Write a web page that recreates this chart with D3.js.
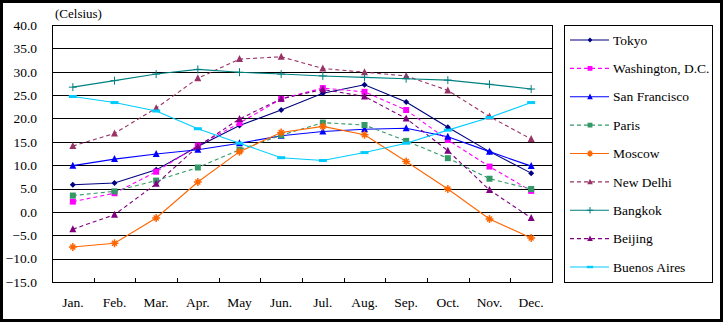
<!DOCTYPE html>
<html><head><meta charset="utf-8">
<script src="https://cdn.jsdelivr.net/npm/d3@7"></script>
<style>
html,body{margin:0;padding:0;background:#fff;}
svg{display:block;}
</style></head><body>
<svg id="c" width="723" height="322"></svg>
<script>
const months = ["Jan.","Feb.","Mar.","Apr.","May","Jun.","Jul.","Aug.","Sep.","Oct.","Nov.","Dec."];
const yTicks = [-15,-10,-5,0,5,10,15,20,25,30,35,40];
const cities = ["Tokyo","Washington, D.C.","San Francisco","Paris","Moscow","New Delhi","Bangkok","Beijing","Buenos Aires"];
const tokyo      = [5.8, 6.2, 9.0, 14.0, 18.5, 21.8, 25.4, 27.2, 23.5, 18.1, 12.9, 8.3];
const washington = [2.2, 4.0, 8.6, 14.2, 19.0, 24.2, 26.5, 25.7, 21.8, 15.4, 9.7, 4.5];
const sanFran    = [9.9, 11.3, 12.4, 13.3, 14.7, 16.3, 17.2, 17.7, 17.9, 16.1, 12.9, 9.8];
const paris      = [3.5, 4.4, 6.7, 9.5, 13.3, 16.4, 19.1, 18.6, 15.2, 11.5, 7.1, 4.9];
const moscow     = [-7.5, -6.7, -1.3, 6.4, 12.9, 17.0, 18.3, 16.5, 10.8, 4.9, -1.5, -5.6];
const newDelhi   = [14.1, 16.8, 22.2, 28.6, 32.7, 33.2, 30.7, 29.9, 29.1, 26.0, 20.4, 15.6];
const bangkok    = [26.7, 28.1, 29.5, 30.5, 29.9, 29.5, 29.1, 28.8, 28.5, 28.2, 27.3, 26.3];
const beijing    = [-3.7, -0.6, 6.0, 14.0, 19.9, 24.2, 26.2, 24.7, 20.0, 13.1, 4.7, -1.3];
const buenosAires= [24.7, 23.4, 21.6, 17.8, 14.7, 11.6, 11.0, 12.7, 14.7, 17.5, 20.2, 23.4];
const seriesValues = [tokyo, washington, sanFran, paris, moscow, newDelhi, bangkok, beijing, buenosAires];

const styles = [
  {color:"#000080", dash:null, marker:"diamond"},
  {color:"#FF00FF", dash:"4,3", marker:"square"},
  {color:"#0000FF", dash:null, marker:"triangle"},
  {color:"#339966", dash:"4,3", marker:"square"},
  {color:"#FF6600", dash:null, marker:"star"},
  {color:"#993366", dash:"4,3", marker:"triangle"},
  {color:"#008080", dash:null, marker:"plus"},
  {color:"#800080", dash:"4,3", marker:"triangle"},
  {color:"#00CCFF", dash:null, marker:"bar"}
];
const FONT = '"Liberation Serif"';

const svg = d3.select("#c");
const L=52, R=552, T=25, B=282;
const x = d3.scaleBand().domain(months).range([L,R]);
const y = d3.scaleLinear().domain([-15,40]).range([B,T]);

// outer border
svg.append("rect").attr("x",1.5).attr("y",1.5).attr("width",720).attr("height",319)
  .attr("fill","none").attr("stroke","#000").attr("stroke-width",3);

// gridlines
svg.append("g").selectAll("line").data(yTicks).join("line")
  .attr("x1",L).attr("x2",R).attr("y1",d=>Math.round(y(d))+0.5).attr("y2",d=>Math.round(y(d))+0.5)
  .attr("stroke","#000").attr("stroke-width",1);
// plot border
svg.append("rect").attr("x",L+0.5).attr("y",T+0.5).attr("width",R-L).attr("height",B-T)
  .attr("fill","none").attr("stroke","#000").attr("stroke-width",1);

// y axis labels
const yAxis = d3.axisLeft(y).tickValues(yTicks).tickFormat(d3.format(".1f")).tickSize(0).tickPadding(15);
const ga = svg.append("g").attr("transform",`translate(${L},0)`).call(yAxis);
ga.select(".domain").remove();
ga.selectAll("text").style("font-size","13.5px").style("font-family",FONT).attr("fill","#000");

// x axis
const xAxis = d3.axisBottom(x).tickSize(0).tickPadding(15);
const gx = svg.append("g").attr("transform",`translate(0,${B})`).call(xAxis);
gx.select(".domain").remove();
gx.selectAll("text").style("font-size","13.5px").style("font-family",FONT).attr("fill","#000");
// boundary ticks pointing up
svg.append("g").selectAll("line").data(months.slice(1)).join("line")
  .attr("x1",d=>Math.round(x(d))+0.5).attr("x2",d=>Math.round(x(d))+0.5)
  .attr("y1",B-4).attr("y2",B).attr("stroke","#000");

svg.append("text").attr("x",55).attr("y",18).style("font-size","13px").style("font-family",FONT).text("(Celsius)");

function drawMarker(g, type, cx, cy, color, s){
  s = s||1;
  if(type==="diamond"){
    g.append("path").attr("d",`M${cx},${cy-3*s}L${cx+3*s},${cy}L${cx},${cy+3*s}L${cx-3*s},${cy}Z`).attr("fill",color);
  } else if(type==="square"){
    g.append("rect").attr("x",cx-3*s).attr("y",cy-3*s).attr("width",6*s).attr("height",6*s).attr("fill",color);
  } else if(type==="triangle"){
    g.append("path").attr("d",`M${cx},${cy-4*s}L${cx+3.5*s},${cy+3*s}L${cx-3.5*s},${cy+3*s}Z`).attr("fill",color);
  } else if(type==="star"){
    g.append("path").attr("d",`M${cx-4*s},${cy}H${cx+4*s}M${cx},${cy-4*s}V${cy+4*s}M${cx-2.5*s},${cy-2.5*s}L${cx+2.5*s},${cy+2.5*s}M${cx+2.5*s},${cy-2.5*s}L${cx-2.5*s},${cy+2.5*s}`)
      .attr("stroke",color).attr("stroke-width",1.5).attr("fill","none");
  } else if(type==="plus"){
    g.append("path").attr("d",`M${cx-4*s},${cy}H${cx+4*s}M${cx},${cy-4*s}V${cy+4*s}`)
      .attr("stroke",color).attr("stroke-width",1).attr("fill","none");
  } else if(type==="bar"){
    g.append("rect").attr("x",cx-4*s).attr("y",cy-1.5*s).attr("width",8*s).attr("height",3*s).attr("fill",color);
  }
}

const line = d3.line().x((d,i)=>x(months[i])+x.bandwidth()/2).y(d=>y(d));
seriesValues.forEach((vals,k)=>{
  const st = styles[k];
  const g = svg.append("g");
  g.append("path").attr("d",line(vals)).attr("fill","none").attr("stroke",st.color)
    .attr("stroke-width",1.1).attr("stroke-dasharray",st.dash);
  vals.forEach((v,i)=>drawMarker(g, st.marker, x(months[i])+x.bandwidth()/2, y(v), st.color));
});

// legend
const lg = svg.append("g");
lg.append("rect").attr("x",564.5).attr("y",25.5).attr("width",148).attr("height",257)
  .attr("fill","#fff").attr("stroke","#000").attr("stroke-width",1);
const ly = d3.scalePoint().domain(cities).range([40,267]);
cities.forEach((c,k)=>{
  const st = styles[k];
  const yy = ly(c);
  lg.append("line").attr("x1",570).attr("x2",609).attr("y1",yy).attr("y2",yy)
    .attr("stroke",st.color).attr("stroke-width",1.1).attr("stroke-dasharray",st.dash);
  drawMarker(lg, st.marker, 590, yy, st.color, 0.8);
  lg.append("text").attr("x",613).attr("y",yy).attr("dy","0.35em").style("font-size","13.5px").style("font-family",FONT).text(c);
});
</script>
</body></html>
